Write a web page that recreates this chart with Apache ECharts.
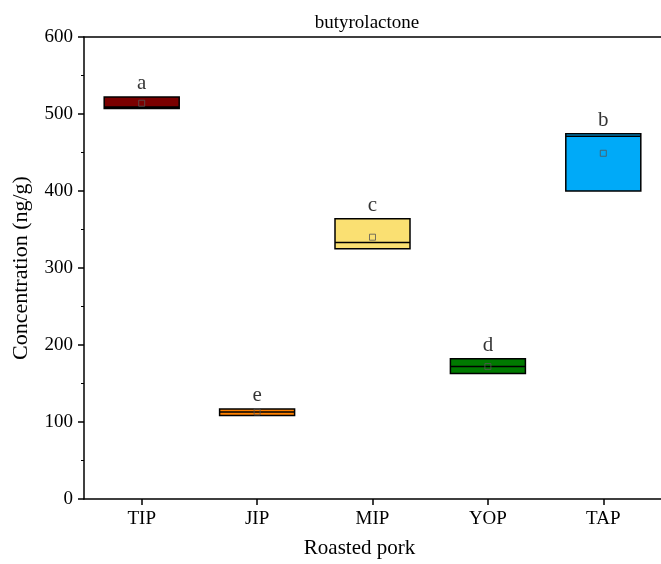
<!DOCTYPE html>
<html>
<head>
<meta charset="utf-8">
<script src="https://cdn.jsdelivr.net/npm/echarts@6/dist/echarts.min.js"></script>
<style>html,body{margin:0;padding:0;background:#fff;}#c{width:661px;height:564px;}</style>
</head>
<body>
<div id="c"></div>
<script>
const categories = ['TIP', 'JIP', 'MIP', 'YOP', 'TAP'];
const boxMin = [507, 108.5, 325, 163, 400];
const boxMedian = [509, 113, 333, 172, 471];
const boxMax = [522, 117, 364, 182, 474.5];
const means = [514, 113, 340, 172, 449];
const letters = ['a', 'e', 'c', 'd', 'b'];
const colors = ['#7A0000', '#FF8000', '#FAE072', '#007A00', '#00AAF8'];
const yTicks = [0, 100, 200, 300, 400, 500, 600];

const font = 'Liberation Serif, Times New Roman, serif';
const chart = echarts.init(document.getElementById('c'));
chart.setOption({
  animation: false,
  backgroundColor: '#fff',
  title: {
    text: 'butyrolactone', left: 362, top: 9, textAlign: 'center',
    textStyle: { fontFamily: font, fontSize: 19, fontWeight: 'normal', color: '#000' }
  },
  grid: { left: 84, top: 37, width: 580, height: 465, show: false },
  xAxis: [{
    type: 'category', data: categories, boundaryGap: true,
    name: 'Roasted pork', nameLocation: 'middle', nameGap: 39,
    nameTextStyle: { fontFamily: font, fontSize: 21, color: '#000', padding: [0, 26, 0, 0] },
    axisLine: { lineStyle: { color: '#000', width: 1.5 } },
    axisTick: { show: true, inside: false, alignWithLabel: true, interval: 0, length: 6, lineStyle: { color: '#000', width: 1.5 } },
    axisLabel: { fontFamily: font, fontSize: 19, color: '#000', margin: 11 },
    splitLine: { show: false }
  }, {
    type: 'category', data: categories, position: 'top',
    axisLine: { lineStyle: { color: '#000', width: 1.5 } },
    axisTick: { show: false }, axisLabel: { show: false }, splitLine: { show: false }
  }],
  yAxis: {
    type: 'value', min: 0, max: 600, interval: 100,
    name: 'Concentration (ng/g)', nameLocation: 'middle', nameGap: 52,
    nameTextStyle: { fontFamily: font, fontSize: 22, color: '#000' },
    axisLine: { show: true, lineStyle: { color: '#000', width: 1.5 } },
    axisTick: { show: true, length: 6, lineStyle: { color: '#000', width: 1.5 } },
    minorTick: { show: true, splitNumber: 2, length: 3, lineStyle: { color: '#000', width: 1 } },
    axisLabel: { fontFamily: font, fontSize: 19, color: '#000', margin: 11,
      formatter: v => yTicks.includes(v) ? String(v) : '' },
    splitLine: { show: false }
  },
  series: [
    {
      type: 'boxplot',
      boxWidth: [75, 75],
      data: categories.map((c, i) => ({
        value: [boxMin[i], boxMin[i], boxMedian[i], boxMax[i], boxMax[i]],
        itemStyle: { color: colors[i], borderColor: '#000', borderWidth: 1.5 }
      }))
    },
    {
      type: 'scatter', symbol: 'rect', symbolSize: 6,
      data: means.map((m, i) => [categories[i], m]),
      itemStyle: { color: 'transparent', borderColor: '#555', borderWidth: 1 },
      z: 5
    },
    {
      type: 'scatter', symbolSize: 0,
      data: boxMax.map((m, i) => ({ value: [categories[i], m], label: { formatter: letters[i] } })),
      label: { show: true, position: 'top', distance: 3, fontFamily: font, fontSize: 21, color: '#000' },
      z: 6
    }
  ]
});
</script>
</body>
</html>
